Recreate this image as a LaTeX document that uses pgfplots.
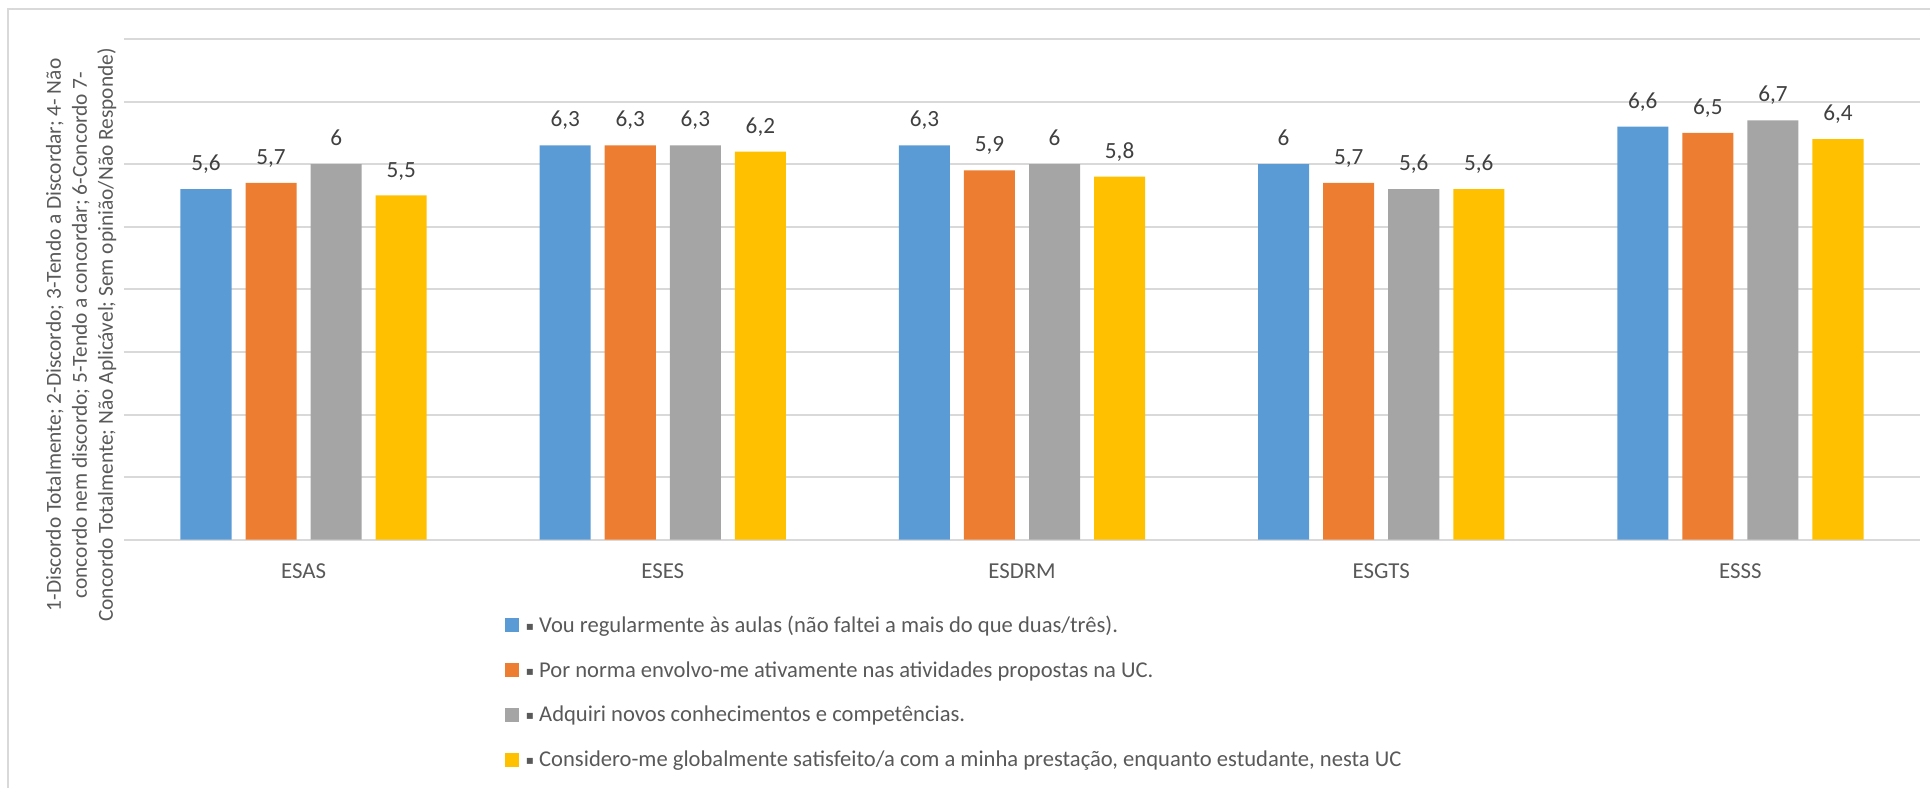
\documentclass[border=0pt]{standalone}
\usepackage{pgfplots}
\pgfplotsset{compat=1.18}
\usepackage{fontspec}
\setmainfont{Carlito}
\newfontfamily\dejavu{DejaVu Sans}

\definecolor{cblue}{HTML}{5B9BD5}
\definecolor{corange}{HTML}{ED7D31}
\definecolor{cgray}{HTML}{A5A5A5}
\definecolor{cyellow}{HTML}{FFC000}
\definecolor{gridc}{HTML}{D9D9D9}
\definecolor{txt}{HTML}{595959}
\definecolor{lbl}{HTML}{404040}

% small square bullet that Excel puts in front of the series names
\newcommand{\sq}{\raisebox{1pt}{\dejavu\fontsize{6}{6}\selectfont ▪}}

\begin{document}
\begin{tikzpicture}
\useasboundingbox (0,0) rectangle (965pt,-393.5pt);
% chart frame (cut by the page on the right and bottom)
\draw[gridc, line width=1pt] (4pt,-4.5pt) rectangle (990pt,-420pt);

\begin{axis}[
    at={(62pt,-269.85pt)}, anchor=south west,
    scale only axis,
    width=898pt, height=250.4pt,
    xmin=-0.5, xmax=4.5,
    ymin=0, ymax=8,
    ybar,
    bar width=0.1421,
    xtick={0,...,4},
    xticklabels={ESAS,ESES,ESDRM,ESGTS,ESSS},
    ytick={0,...,8},
    yticklabels={},
    major tick length=0pt,
    ymajorgrids,
    grid style={gridc, line width=1pt},
    axis line style={draw=none},
    xticklabel style={anchor=base, yshift=-19.15pt, font=\fontsize{11.4}{13}\selectfont, text=txt},
    ylabel={1-Discordo Totalmente; 2-Discordo; 3-Tendo a Discordar; 4- Não\\concordo nem discordo; 5-Tendo a concordar; 6-Concordo 7-\\Concordo Totalmente; Não Aplicável; Sem opinião/Não Responde)},
    ylabel style={at={(axis description cs:-0.0238,0.4088)}, anchor=center, align=center,
        font=\fontsize{10.7}{13}\selectfont, text=txt},
    /pgf/number format/.cd, use comma, assume math mode=true,
    /pgfplots/.cd,
    nodes near coords,
    every node near coord/.append style={anchor=base, yshift=9.2pt, inner sep=0pt,
        font=\fontsize{11.6}{13}\selectfont, text=lbl},
    legend cell align=left,
    legend image code/.code={\fill[#1] (0pt,0pt) rectangle (7pt,7pt);},
    legend style={at={(axis description cs:0.2121,-0.153)}, anchor=north west,
        draw=none, fill=none, inner sep=0pt, outer sep=0pt,
        row sep=11.9pt, column sep=3.5pt,
        font=\fontsize{11.3}{13}\selectfont, text=txt,
        nodes={inner sep=0pt, text height=8pt, text depth=2.5pt, anchor=base west}},
]
\addplot[fill=cblue, draw=none, bar shift=-0.2717] coordinates {(0,5.6) (1,6.3) (2,6.3) (3,6.0) (4,6.6)};
\addlegendentry{\sq\ Vou regularmente às aulas (não faltei a mais do que duas/três).}
\addplot[fill=corange, draw=none, bar shift=-0.0906] coordinates {(0,5.7) (1,6.3) (2,5.9) (3,5.7) (4,6.5)};
\addlegendentry{\sq\ Por norma envolvo-me ativamente nas atividades propostas na UC.}
\addplot[fill=cgray, draw=none, bar shift=0.0906] coordinates {(0,6.0) (1,6.3) (2,6.0) (3,5.6) (4,6.7)};
\addlegendentry{\sq\ Adquiri novos conhecimentos e competências.}
\addplot[fill=cyellow, draw=none, bar shift=0.2717] coordinates {(0,5.5) (1,6.2) (2,5.8) (3,5.6) (4,6.4)};
\addlegendentry{\sq\ Considero-me globalmente satisfeito/a com a minha prestação, enquanto estudante, nesta UC}
\end{axis}
\end{tikzpicture}
\end{document}
